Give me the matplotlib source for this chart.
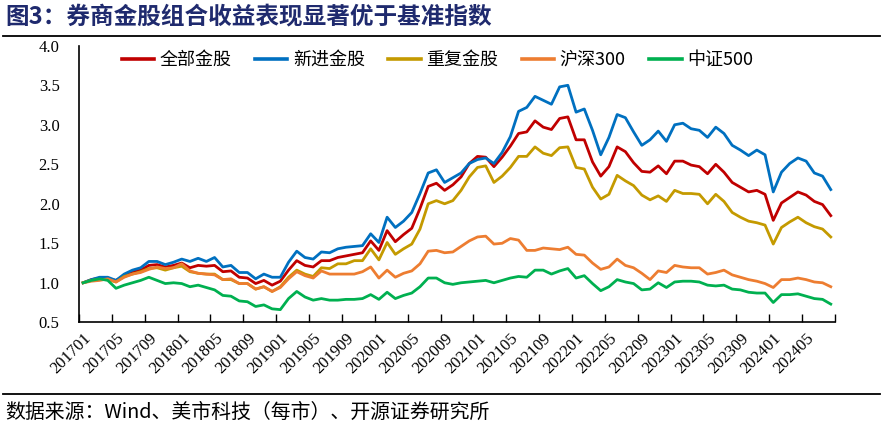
import numpy as np
import matplotlib

matplotlib.use('Agg')
import matplotlib.pyplot as plt
from matplotlib.lines import Line2D

plt.rcParams['font.family'] = ['Noto Sans CJK SC', 'DejaVu Sans']

months = [f"{y}{m:02d}" for y in range(2017, 2025) for m in range(1, 13)][:92]

all_picks = [1.00, 1.04, 1.06, 1.05, 1.03, 1.09, 1.14, 1.16, 1.22, 1.23, 1.20, 1.22, 1.25, 1.19, 1.22, 1.21, 1.22, 1.14,
             1.15, 1.07, 1.06, 0.99, 1.03, 0.97, 1.02, 1.16, 1.28,
             1.22, 1.20, 1.28, 1.28, 1.32, 1.34, 1.36, 1.38, 1.53, 1.41, 1.66, 1.52, 1.61, 1.69, 1.94, 2.22, 2.26,
             2.17, 2.24, 2.34, 2.51, 2.60, 2.59, 2.47, 2.59, 2.73, 2.89, 2.91, 3.05, 2.97, 2.94, 3.08, 3.10, 2.81,
             2.81, 2.53, 2.35, 2.47, 2.72, 2.66, 2.52, 2.41, 2.40, 2.48, 2.38, 2.54, 2.54, 2.49, 2.47, 2.38, 2.50,
             2.40, 2.27, 2.21, 2.15, 2.17, 2.12, 1.79, 2.01, 2.08, 2.15, 2.11, 2.03, 1.99, 1.85]

new_picks = [1.00, 1.04, 1.07, 1.07, 1.03, 1.11, 1.16, 1.19, 1.27, 1.27, 1.23, 1.26, 1.30, 1.27, 1.31, 1.27, 1.32, 1.20,
             1.22, 1.13, 1.13, 1.05, 1.11, 1.07, 1.07, 1.26, 1.40,
             1.32, 1.30, 1.39, 1.38, 1.43, 1.45, 1.46, 1.47, 1.62, 1.51, 1.83, 1.70, 1.78, 1.89, 2.13, 2.39, 2.43,
             2.27, 2.33, 2.39, 2.51, 2.56, 2.58, 2.51, 2.65, 2.85, 3.17, 3.22, 3.36, 3.31, 3.26, 3.48, 3.50, 3.16,
             3.20, 2.93, 2.62, 2.84, 3.13, 3.09, 2.91, 2.74, 2.81, 2.92, 2.79, 3.00, 3.02, 2.95, 2.93, 2.84, 2.97,
             2.89, 2.74, 2.68, 2.61, 2.68, 2.62, 2.15, 2.40, 2.51, 2.58, 2.54, 2.39, 2.35, 2.18]

repeat_picks = [1.00, 1.03, 1.04, 1.04, 1.01, 1.08, 1.11, 1.14, 1.18, 1.19, 1.16, 1.19, 1.21, 1.14, 1.12, 1.11, 1.11,
                1.04, 1.04, 0.99, 0.99, 0.92, 0.95, 0.89, 0.95, 1.07, 1.16,
                1.11, 1.08, 1.19, 1.18, 1.24, 1.24, 1.28, 1.28, 1.43, 1.29, 1.51, 1.36, 1.43, 1.49, 1.68, 2.00, 2.04,
                2.00, 2.04, 2.17, 2.34, 2.46, 2.48, 2.27, 2.35, 2.46, 2.60, 2.60, 2.72, 2.64, 2.61, 2.71, 2.72, 2.46,
                2.44, 2.21, 2.06, 2.12, 2.36, 2.29, 2.23, 2.11, 2.05, 2.10, 2.03, 2.17, 2.13, 2.13, 2.12, 2.00, 2.12,
                2.03, 1.89, 1.83, 1.78, 1.76, 1.73, 1.49, 1.70, 1.77, 1.83, 1.76, 1.71, 1.68, 1.58]

hs300 = [1.00, 1.02, 1.03, 1.05, 1.01, 1.07, 1.11, 1.13, 1.17, 1.20, 1.18, 1.19, 1.24, 1.15, 1.12, 1.11, 1.10, 1.04,
         1.05, 0.99, 0.99, 0.92, 0.95, 0.89, 0.94, 1.05, 1.14,
         1.09, 1.06, 1.15, 1.11, 1.11, 1.11, 1.11, 1.14, 1.20, 1.06, 1.16, 1.07, 1.12, 1.15, 1.24, 1.40, 1.41,
         1.38, 1.39, 1.46, 1.53, 1.58, 1.59, 1.49, 1.50, 1.56, 1.54, 1.41, 1.41, 1.44, 1.43, 1.42, 1.45, 1.36,
         1.35, 1.25, 1.17, 1.20, 1.30, 1.22, 1.19, 1.12, 1.04, 1.15, 1.13, 1.22, 1.20, 1.19, 1.19, 1.11, 1.13,
         1.16, 1.10, 1.07, 1.04, 1.02, 0.99, 0.94, 1.04, 1.04, 1.06, 1.04, 1.01, 1.00, 0.95]

zz500 = [1.00, 1.03, 1.05, 1.03, 0.93, 0.97, 1.00, 1.03, 1.07, 1.03, 0.99, 1.00, 0.99, 0.95, 0.97, 0.94, 0.91, 0.84,
         0.83, 0.77, 0.76, 0.70, 0.72, 0.67, 0.66, 0.80, 0.89,
         0.82, 0.78, 0.80, 0.78, 0.78, 0.79, 0.79, 0.80, 0.85, 0.79, 0.88, 0.80, 0.84, 0.87, 0.95, 1.06, 1.06,
         1.00, 0.98, 1.00, 1.01, 1.02, 1.03, 1.00, 1.03, 1.06, 1.08, 1.07, 1.16, 1.16, 1.11, 1.15, 1.18, 1.06,
         1.09, 0.99, 0.90, 0.95, 1.04, 1.01, 0.99, 0.91, 0.92, 1.00, 0.94, 1.01, 1.02, 1.02, 1.01, 0.97, 0.96,
         0.97, 0.92, 0.91, 0.88, 0.87, 0.87, 0.75, 0.85, 0.85, 0.86, 0.83, 0.80, 0.79, 0.73]

series = [
    ("全部金股", all_picks, "#C00000"),
    ("新进金股", new_picks, "#0070C0"),
    ("重复金股", repeat_picks, "#C49A00"),
    ("沪深300", hs300, "#ED7D31"),
    ("中证500", zz500, "#00B050"),
]

fig = plt.figure(figsize=(8.83, 4.32), dpi=100)
ax = fig.add_axes([0.0895, 0.254, 0.856, 0.640])

x = np.arange(len(months))
handles = []
for name, vals, color in series:
    ax.plot(x, vals, color=color, lw=2.0, solid_joinstyle='round')
    handles.append(Line2D([0], [0], color=color, lw=2.6))

ax.set_xlim(-0.5, len(months) - 0.5)
ax.set_ylim(0.5, 4.0)
yt = np.arange(0.5, 4.01, 0.5)
ax.set_yticks(yt)
ax.set_yticklabels([f"{v:.1f}" for v in yt], family='Liberation Serif', fontsize=12)
ax.tick_params(axis='y', length=0, pad=14)

ax.set_xticks(x[::4])
ax.set_xticklabels(months[::4], rotation=45, ha='right', va='top', rotation_mode='anchor',
                   family='Liberation Serif', fontsize=12)
ax.tick_params(axis='x', which='major', length=0, pad=6)
ax.set_xticks(np.arange(-0.5, len(months), 4), minor=True)
ax.tick_params(axis='x', which='minor', direction='in', length=6, width=1.0, color='black')

for s in ['top', 'right']:
    ax.spines[s].set_visible(False)
for s in ['left', 'bottom']:
    ax.spines[s].set_linewidth(1.2)

ax.legend(handles, [s[0] for s in series], loc='upper center', bbox_to_anchor=(0.474, 1.04), ncol=5,
          frameon=False, fontsize=13, handlelength=1.8, handletextpad=0.3, columnspacing=1.3)

fig.text(0.006, 0.962, "图3：券商金股组合收益表现显著优于基准指数", fontsize=17, fontweight='bold',
         color='#1F2A6E', va='center', ha='left')
fig.add_artist(Line2D([0.003, 0.997], [1 - 35.7 / 432, 1 - 35.7 / 432], color='black', lw=1.3))
fig.add_artist(Line2D([0.003, 0.997], [1 - 394.3 / 432, 1 - 394.3 / 432], color='black', lw=1.3))
fig.text(0.006, 1 - 412 / 432, "数据来源：Wind、美市科技（每市）、开源证券研究所", fontsize=14.3,
         color='black', va='center', ha='left')

fig.savefig("out.png", dpi=100)
plt.close(fig)
